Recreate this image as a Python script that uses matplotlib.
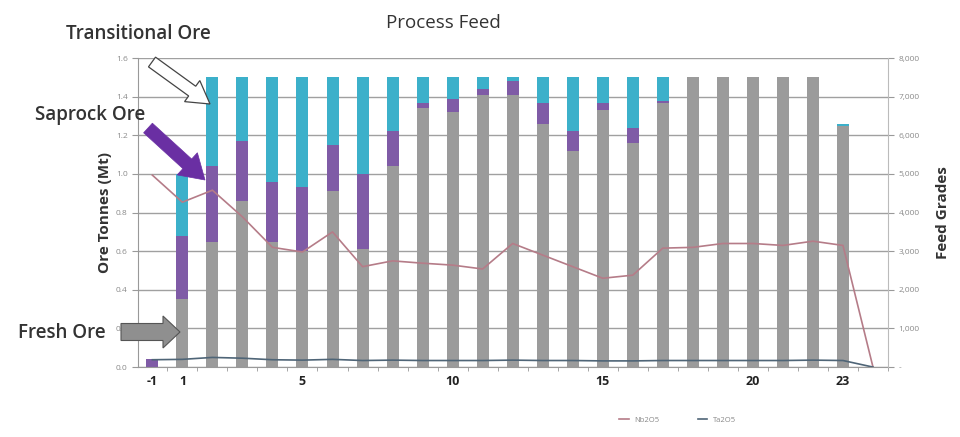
import numpy as np
import matplotlib.pyplot as plt
from matplotlib.patches import FancyArrow
from matplotlib.ticker import FuncFormatter, MultipleLocator

# process periods (-1 is pre-strip, 24 is the run-out)
periods = ['-1'] + [str(i) for i in range(1, 25)]
shown_labels = {'-1', '1', '5', '10', '15', '20', '23'}

# ore tonnes by type (Mt), periods -1..23
fresh = [0.00, 0.35, 0.65, 0.86, 0.65, 0.60, 0.91, 0.61, 1.04, 1.34, 1.32, 1.41,
         1.41, 1.26, 1.12, 1.33, 1.16, 1.37, 1.50, 1.50, 1.50, 1.50, 1.50, 1.25]
saprock = [0.04, 0.33, 0.39, 0.31, 0.31, 0.33, 0.24, 0.39, 0.18, 0.03, 0.07, 0.03,
           0.07, 0.11, 0.10, 0.04, 0.08, 0.01, 0.00, 0.00, 0.00, 0.00, 0.00, 0.00]
transitional = [0.00, 0.32, 0.46, 0.33, 0.54, 0.57, 0.35, 0.50, 0.28, 0.13, 0.11, 0.06,
                0.02, 0.13, 0.28, 0.13, 0.26, 0.12, 0.00, 0.00, 0.00, 0.00, 0.00, 0.01]

# feed grades (ppm), periods -1..24
nb2o5 = [4970, 4270, 4580, 3890, 3100, 2980, 3500, 2600, 2750, 2690, 2640, 2540,
         3200, 2900, 2600, 2300, 2380, 3080, 3100, 3200, 3200, 3150, 3260, 3150, 0]
ta2o5 = [190, 200, 250, 230, 190, 180, 200, 170, 180, 170, 170, 170,
         180, 170, 170, 160, 160, 170, 170, 170, 170, 170, 180, 170, 0]

GREY = '#9b9b9b'
PURPLE = '#7f5ba6'
TEAL = '#3cb0ca'

plt.rcParams['font.family'] = ['Open Sans', 'DejaVu Sans']

fig = plt.figure(figsize=(9.6, 4.37), dpi=100)
ax = fig.add_axes([0.144, 0.160, 0.781, 0.707])

x = np.arange(len(fresh))
w = 0.4
fresh = np.array(fresh)
saprock = np.array(saprock)
transitional = np.array(transitional)
ax.bar(x, fresh, w, color=GREY, zorder=2, label='Fresh Ore')
ax.bar(x, saprock, w, bottom=fresh, color=PURPLE, zorder=2, label='Saprock Ore')
ax.bar(x, transitional, w, bottom=fresh + saprock, color=TEAL, zorder=2,
       label='Transitional Ore')

ax.set_ylim(0, 1.6)
ax.set_xlim(-0.47, 24.37)
ax.yaxis.set_major_locator(MultipleLocator(0.2))
ax.yaxis.set_major_formatter(FuncFormatter(lambda v, p: f'{v:.1f}'))
ax.grid(axis='y', color='#a0a0a0', linewidth=1.0, zorder=0)
ax.set_axisbelow(True)

ax.set_xticks(np.arange(len(periods)))
ax.set_xticklabels([p if p in shown_labels else '' for p in periods],
                   fontsize=9, fontweight='bold', color='#222222')
ax.set_xticks(np.arange(len(periods)) + 0.5, minor=True)
ax.tick_params(axis='x', which='major', length=0, pad=6)
ax.tick_params(axis='x', which='minor', length=3, color='#999999')
ax.tick_params(axis='y', labelsize=6, labelcolor='#8a8a8a', length=4, color='#999999')

for side in ['top', 'right']:
    ax.spines[side].set_visible(False)
ax.spines['left'].set_color('#999999')
ax.spines['bottom'].set_color('#999999')

ax.set_ylabel('Ore Tonnes (Mt)', fontsize=11, fontweight='bold', color='#333333',
              labelpad=3)

# grades on the secondary axis
ax2 = ax.twinx()
xl = np.arange(len(nb2o5))
ax2.plot(xl, nb2o5, color='#b57c88', linewidth=1.2, zorder=3, label='Nb2O5')
ax2.plot(xl, ta2o5, color='#4f6577', linewidth=1.2, zorder=3, label='Ta2O5')
ax2.set_ylim(0, 8000)
ax2.yaxis.set_major_locator(MultipleLocator(1000))
ax2.yaxis.set_major_formatter(FuncFormatter(lambda v, p: '-' if v == 0 else f'{v:,.0f}'))
ax2.tick_params(axis='y', labelsize=6, labelcolor='#8a8a8a', length=4, color='#999999')
for side in ['top', 'left', 'bottom']:
    ax2.spines[side].set_visible(False)
ax2.spines['right'].set_color('#bbbbbb')
ax2.set_ylabel('Feed Grades', fontsize=11, fontweight='bold', color='#333333',
               labelpad=12)

fig.legend(handles=ax2.get_lines(), loc='lower left', bbox_to_anchor=(0.638, 0.015),
           ncol=2, frameon=False, fontsize=5.5, labelcolor='#888888',
           handlelength=1.2, columnspacing=5)

fig.text(0.462, 0.948, 'Process Feed', fontsize=13.5, color='#333333', ha='center',
         va='center')

# call-outs for the ore types, drawn in pixel space over the whole figure
ov = fig.add_axes([0, 0, 1, 1], facecolor='none')
ov.set_xlim(0, 960)
ov.set_ylim(437, 0)
ov.axis('off')

ov.text(138, 34, 'Transitional Ore', fontsize=13.5, color='#333333', ha='center',
        va='center', fontweight='semibold')
ov.add_patch(FancyArrow(152, 62, 58, 42, width=12, head_width=26, head_length=22,
                        length_includes_head=True, fc='white', ec='#444444', lw=0.9))

ov.text(90, 115, 'Saprock Ore', fontsize=13.5, color='#333333', ha='center',
        va='center', fontweight='semibold')
ov.add_patch(FancyArrow(148, 128, 57, 52, width=13, head_width=30, head_length=24,
                        length_includes_head=True, fc='#6a2fa3', ec='#6a2fa3', lw=0.5))

ov.text(62, 333, 'Fresh Ore', fontsize=13.5, color='#333333', ha='center',
        va='center', fontweight='semibold')
ov.add_patch(FancyArrow(121, 332, 59, 0, width=17, head_width=32, head_length=17,
                        length_includes_head=True, fc='#8f8f8f', ec='#555555', lw=0.8))

fig.savefig('out.png', dpi=100)
